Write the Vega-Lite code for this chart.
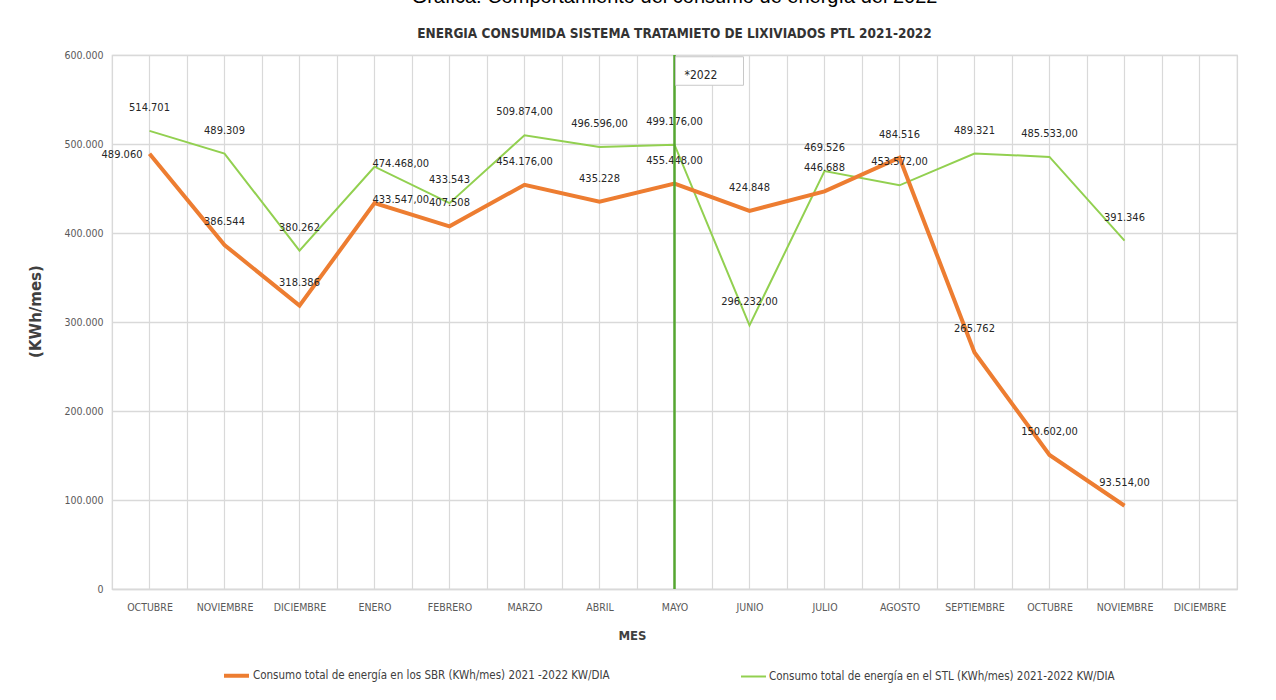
{
  "$schema": "https://vega.github.io/schema/vega-lite/v6.json",
  "width": 1125,
  "height": 534,
  "autosize": {"type": "none"},
  "padding": {"left": 112, "top": 55, "right": 39, "bottom": 111},
  "background": "white",
  "title": {
    "text": "Grafica: Comportamiento del consumo de energía del 2022",
    "subtitle": "ENERGIA CONSUMIDA SISTEMA TRATAMIETO DE LIXIVIADOS PTL 2021-2022",
    "anchor": "middle",
    "font": "Liberation Sans",
    "fontSize": 20,
    "fontWeight": "normal",
    "color": "#000000",
    "subtitleFont": "'DejaVu Sans Condensed', Roboto, sans-serif",
    "subtitleFontSize": 13.5,
    "subtitleFontWeight": "bold",
    "subtitleColor": "#333333",
    "subtitlePadding": 20,
    "offset": 10
  },
  "datasets": {
    "meses": [
      {"periodo": "OCTUBRE 2021"}, {"periodo": "NOVIEMBRE 2021"}, {"periodo": "DICIEMBRE 2021"},
      {"periodo": "ENERO 2022"}, {"periodo": "FEBRERO 2022"}, {"periodo": "MARZO 2022"},
      {"periodo": "ABRIL 2022"}, {"periodo": "MAYO 2022"}, {"periodo": "JUNIO 2022"},
      {"periodo": "JULIO 2022"}, {"periodo": "AGOSTO 2022"}, {"periodo": "SEPTIEMBRE 2022"},
      {"periodo": "OCTUBRE 2022"}, {"periodo": "NOVIEMBRE 2022"}, {"periodo": "DICIEMBRE 2022"}
    ],
    "anotacion": [
      {"periodo": "MAYO 2022", "nota": "*2022"}
    ],
    "consumo": [
      {"periodo": "OCTUBRE 2021", "serie": "Consumo total de energía en los SBR (KWh/mes) 2021 -2022 KW/DIA", "valor": 489060, "etiqueta": "489.060"},
      {"periodo": "NOVIEMBRE 2021", "serie": "Consumo total de energía en los SBR (KWh/mes) 2021 -2022 KW/DIA", "valor": 386544, "etiqueta": "386.544"},
      {"periodo": "DICIEMBRE 2021", "serie": "Consumo total de energía en los SBR (KWh/mes) 2021 -2022 KW/DIA", "valor": 318386, "etiqueta": "318.386"},
      {"periodo": "ENERO 2022", "serie": "Consumo total de energía en los SBR (KWh/mes) 2021 -2022 KW/DIA", "valor": 433547, "etiqueta": "433.547,00"},
      {"periodo": "FEBRERO 2022", "serie": "Consumo total de energía en los SBR (KWh/mes) 2021 -2022 KW/DIA", "valor": 407508, "etiqueta": "407.508"},
      {"periodo": "MARZO 2022", "serie": "Consumo total de energía en los SBR (KWh/mes) 2021 -2022 KW/DIA", "valor": 454176, "etiqueta": "454.176,00"},
      {"periodo": "ABRIL 2022", "serie": "Consumo total de energía en los SBR (KWh/mes) 2021 -2022 KW/DIA", "valor": 435228, "etiqueta": "435.228"},
      {"periodo": "MAYO 2022", "serie": "Consumo total de energía en los SBR (KWh/mes) 2021 -2022 KW/DIA", "valor": 455448, "etiqueta": "455.448,00"},
      {"periodo": "JUNIO 2022", "serie": "Consumo total de energía en los SBR (KWh/mes) 2021 -2022 KW/DIA", "valor": 424848, "etiqueta": "424.848"},
      {"periodo": "JULIO 2022", "serie": "Consumo total de energía en los SBR (KWh/mes) 2021 -2022 KW/DIA", "valor": 446688, "etiqueta": "446.688"},
      {"periodo": "AGOSTO 2022", "serie": "Consumo total de energía en los SBR (KWh/mes) 2021 -2022 KW/DIA", "valor": 484516, "etiqueta": "484.516"},
      {"periodo": "SEPTIEMBRE 2022", "serie": "Consumo total de energía en los SBR (KWh/mes) 2021 -2022 KW/DIA", "valor": 265762, "etiqueta": "265.762"},
      {"periodo": "OCTUBRE 2022", "serie": "Consumo total de energía en los SBR (KWh/mes) 2021 -2022 KW/DIA", "valor": 150602, "etiqueta": "150.602,00"},
      {"periodo": "NOVIEMBRE 2022", "serie": "Consumo total de energía en los SBR (KWh/mes) 2021 -2022 KW/DIA", "valor": 93514, "etiqueta": "93.514,00"},
      {"periodo": "OCTUBRE 2021", "serie": "Consumo total de energía en el STL (KWh/mes) 2021-2022 KW/DIA", "valor": 514701, "etiqueta": "514.701"},
      {"periodo": "NOVIEMBRE 2021", "serie": "Consumo total de energía en el STL (KWh/mes) 2021-2022 KW/DIA", "valor": 489309, "etiqueta": "489.309"},
      {"periodo": "DICIEMBRE 2021", "serie": "Consumo total de energía en el STL (KWh/mes) 2021-2022 KW/DIA", "valor": 380262, "etiqueta": "380.262"},
      {"periodo": "ENERO 2022", "serie": "Consumo total de energía en el STL (KWh/mes) 2021-2022 KW/DIA", "valor": 474468, "etiqueta": "474.468,00"},
      {"periodo": "FEBRERO 2022", "serie": "Consumo total de energía en el STL (KWh/mes) 2021-2022 KW/DIA", "valor": 433543, "etiqueta": "433.543"},
      {"periodo": "MARZO 2022", "serie": "Consumo total de energía en el STL (KWh/mes) 2021-2022 KW/DIA", "valor": 509874, "etiqueta": "509.874,00"},
      {"periodo": "ABRIL 2022", "serie": "Consumo total de energía en el STL (KWh/mes) 2021-2022 KW/DIA", "valor": 496596, "etiqueta": "496.596,00"},
      {"periodo": "MAYO 2022", "serie": "Consumo total de energía en el STL (KWh/mes) 2021-2022 KW/DIA", "valor": 499176, "etiqueta": "499.176,00"},
      {"periodo": "JUNIO 2022", "serie": "Consumo total de energía en el STL (KWh/mes) 2021-2022 KW/DIA", "valor": 296232, "etiqueta": "296.232,00"},
      {"periodo": "JULIO 2022", "serie": "Consumo total de energía en el STL (KWh/mes) 2021-2022 KW/DIA", "valor": 469526, "etiqueta": "469.526"},
      {"periodo": "AGOSTO 2022", "serie": "Consumo total de energía en el STL (KWh/mes) 2021-2022 KW/DIA", "valor": 453572, "etiqueta": "453.572,00"},
      {"periodo": "SEPTIEMBRE 2022", "serie": "Consumo total de energía en el STL (KWh/mes) 2021-2022 KW/DIA", "valor": 489321, "etiqueta": "489.321"},
      {"periodo": "OCTUBRE 2022", "serie": "Consumo total de energía en el STL (KWh/mes) 2021-2022 KW/DIA", "valor": 485533, "etiqueta": "485.533,00"},
      {"periodo": "NOVIEMBRE 2022", "serie": "Consumo total de energía en el STL (KWh/mes) 2021-2022 KW/DIA", "valor": 391346, "etiqueta": "391.346"}
    ]
  },
  "encoding": {
    "x": {
      "field": "periodo",
      "type": "nominal",
      "scale": {
        "domain": ["OCTUBRE 2021", "NOVIEMBRE 2021", "DICIEMBRE 2021", "ENERO 2022", "FEBRERO 2022", "MARZO 2022", "ABRIL 2022", "MAYO 2022", "JUNIO 2022", "JULIO 2022", "AGOSTO 2022", "SEPTIEMBRE 2022", "OCTUBRE 2022", "NOVIEMBRE 2022", "DICIEMBRE 2022"],
        "paddingInner": 0,
        "paddingOuter": 0
      },
      "axis": {
        "title": "MES",
        "labelExpr": "datum.value ? split(datum.value, ' ')[0] : ''",
        "labelAngle": 0,
        "labelFontSize": 10.5,
        "labelColor": "#595959",
        "labelPadding": 13,
        "ticks": false,
        "tickBand": "extent",
        "domainColor": "#d9d9d9",
        "domainWidth": 1.5,
        "grid": true,
        "gridColor": "#d9d9d9",
        "gridWidth": 1.2,
        "titleFontSize": 13,
        "titleFontWeight": "bold",
        "titleColor": "#404040",
        "titleX": 520,
        "titleY": 46,
        "titleBaseline": "middle"
      }
    }
  },
  "layer": [
    {
      "data": {"name": "meses"},
      "mark": {"type": "rule", "color": "#d9d9d9", "strokeWidth": 1.2},
      "encoding": {}
    },
    {
      "data": {"name": "consumo"},
      "transform": [{"filter": "indexof(datum.serie, 'STL') >= 0"}],
      "mark": {"type": "line"},
      "encoding": {
        "y": {
          "field": "valor",
          "type": "quantitative",
          "scale": {"domain": [0, 600000], "nice": false},
          "axis": {
            "title": "(KWh/mes)",
            "values": [0, 100000, 200000, 300000, 400000, 500000, 600000],
            "labelExpr": "replace(format(datum.value, ','), ',', '.')",
            "labelFontSize": 10.5,
            "labelColor": "#595959",
            "labelPadding": 9,
            "ticks": false,
            "domain": false,
            "gridColor": "#d9d9d9",
            "gridWidth": 1.5,
            "titleFont": "DejaVu Sans",
            "titleFontSize": 15,
            "titleFontWeight": "bold",
            "titleColor": "#404040",
            "titleX": -77,
            "titleY": 256,
            "titleAlign": "center",
            "titleBaseline": "middle",
            "titleAngle": 270
          }
        },
        "color": {
          "field": "serie",
          "type": "nominal",
          "scale": {
            "domain": ["Consumo total de energía en los SBR (KWh/mes) 2021 -2022 KW/DIA", "Consumo total de energía en el STL (KWh/mes) 2021-2022 KW/DIA"],
            "range": ["#ed7d31", "#92d050"]
          },
          "legend": {
            "orient": "none",
            "legendX": 110,
            "legendY": 606,
            "direction": "horizontal",
            "title": null,
            "symbolType": "stroke",
            "symbolSize": 625,
            "labelFontSize": 11.5,
            "labelColor": "#404040",
            "labelLimit": 600,
            "columnPadding": 127,
            "labelOffset": 2
          }
        },
        "strokeWidth": {
          "field": "serie",
          "type": "nominal",
          "scale": {
            "domain": ["Consumo total de energía en los SBR (KWh/mes) 2021 -2022 KW/DIA", "Consumo total de energía en el STL (KWh/mes) 2021-2022 KW/DIA"],
            "range": [4, 2]
          },
          "legend": {
            "orient": "none",
            "legendX": 110,
            "legendY": 606,
            "direction": "horizontal",
            "title": null,
            "symbolType": "stroke",
            "symbolSize": 625,
            "labelFontSize": 11.5,
            "labelColor": "#404040",
            "labelLimit": 600,
            "columnPadding": 127,
            "labelOffset": 2
          }
        }
      }
    },
    {
      "data": {"name": "consumo"},
      "transform": [{"filter": "indexof(datum.serie, 'SBR') >= 0"}],
      "mark": {"type": "line"},
      "encoding": {
        "y": {"field": "valor", "type": "quantitative"},
        "color": {"field": "serie", "type": "nominal"},
        "strokeWidth": {"field": "serie", "type": "nominal"}
      }
    },
    {
      "data": {"name": "consumo"},
      "transform": [{"filter": "datum.periodo !== 'ENERO 2022' && !(datum.periodo === 'OCTUBRE 2021' && indexof(datum.serie, 'SBR') >= 0)"}],
      "mark": {"type": "text", "fontSize": 11, "color": "#262626", "baseline": "middle", "dy": -23},
      "encoding": {
        "y": {"field": "valor", "type": "quantitative"},
        "text": {"field": "etiqueta"}
      }
    },
    {
      "data": {"name": "consumo"},
      "transform": [{"filter": "datum.periodo === 'OCTUBRE 2021' && indexof(datum.serie, 'SBR') >= 0"}],
      "mark": {"type": "text", "fontSize": 11, "color": "#262626", "baseline": "middle", "align": "right", "dx": -7, "dy": 1},
      "encoding": {
        "y": {"field": "valor", "type": "quantitative"},
        "text": {"field": "etiqueta"}
      }
    },
    {
      "data": {"name": "consumo"},
      "transform": [{"filter": "datum.periodo === 'ENERO 2022'"}],
      "mark": {"type": "text", "fontSize": 11, "color": "#262626", "baseline": "middle", "align": "left", "dx": -2, "dy": -3},
      "encoding": {
        "y": {"field": "valor", "type": "quantitative"},
        "text": {"field": "etiqueta"}
      }
    },
    {
      "data": {"name": "anotacion"},
      "mark": {"type": "rule", "color": "#55a630", "strokeWidth": 2.5},
      "encoding": {}
    },
    {
      "data": {"name": "anotacion"},
      "mark": {"type": "rect", "fill": "white", "stroke": "#c8c8c8", "strokeWidth": 1, "width": 68, "xOffset": 35},
      "encoding": {
        "y": {"datum": 598000, "type": "quantitative"},
        "y2": {"datum": 566000}
      }
    },
    {
      "data": {"name": "anotacion"},
      "mark": {"type": "text", "fontSize": 12, "color": "#262626", "baseline": "middle", "align": "left", "dx": 10},
      "encoding": {
        "y": {"datum": 577500, "type": "quantitative"},
        "text": {"field": "nota"}
      }
    }
  ],
  "config": {
    "font": "'DejaVu Sans Condensed', Roboto, sans-serif",
    "view": {"stroke": "#d9d9d9", "strokeWidth": 1.2}
  }
}
